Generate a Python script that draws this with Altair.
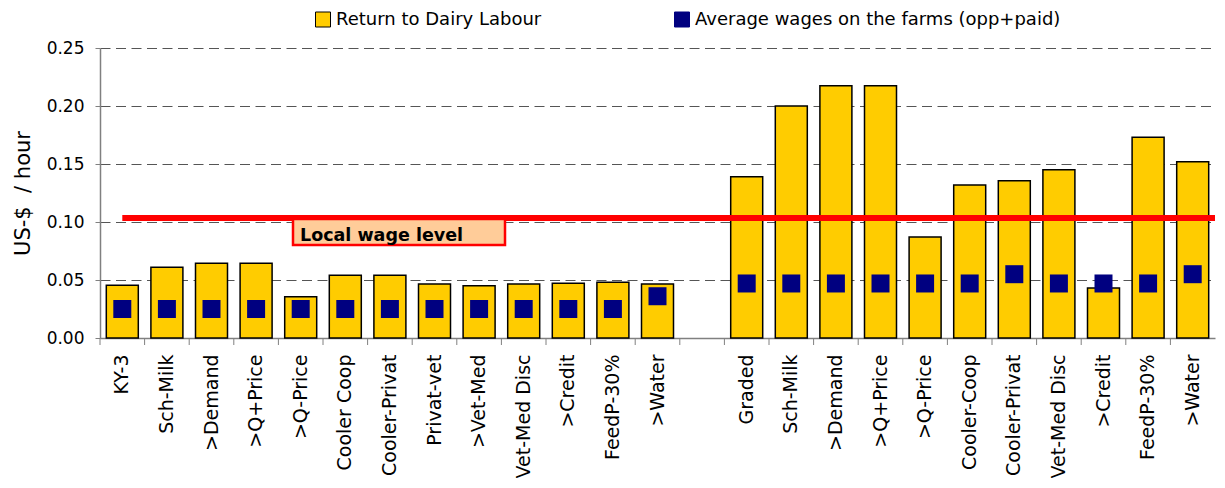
import altair as alt
import pandas as pd

# ---- data ----
g1_labels = ["KY-3", "Sch-Milk", ">Demand", ">Q+Price", ">Q-Price", "Cooler Coop",
             "Cooler-Privat", "Privat-vet", ">Vet-Med", "Vet-Med Disc", ">Credit",
             "FeedP-30%", ">Water"]
g1_return = [0.0455, 0.061, 0.0645, 0.0645, 0.0355, 0.054, 0.054, 0.0465, 0.045,
             0.0465, 0.0472, 0.048, 0.0465]
g1_wage = [0.025, 0.025, 0.025, 0.025, 0.025, 0.025, 0.025, 0.025, 0.025, 0.025,
           0.025, 0.025, 0.036]

g2_labels = ["Graded", "Sch-Milk", ">Demand", ">Q+Price", ">Q-Price", "Cooler-Coop",
             "Cooler-Privat", "Vet-Med Disc", ">Credit", "FeedP-30%", ">Water"]
g2_return = [0.139, 0.200, 0.2175, 0.2175, 0.087, 0.132, 0.1355, 0.145, 0.043,
             0.173, 0.152]
g2_wage = [0.047, 0.047, 0.047, 0.047, 0.047, 0.047, 0.055, 0.047, 0.047, 0.047,
           0.055]

local_wage = 0.1035
series_names = ["Return to Dairy Labour", "Average wages on the farms (opp+paid)"]
series_colors = ["#FFCC00", "#000080"]
series_strokes = ["black", "#000080"]

# ---- build table (second-group names get an invisible suffix to stay unique) ----
ZW = "\u200b"
GAP = ZW * 3
keys = g1_labels + [GAP] + [lab + ZW for lab in g2_labels]
label_keys = [k for k in keys if k != GAP]
returns = g1_return + [None] + g2_return
wages = g1_wage + [None] + g2_wage

df = pd.DataFrame([dict(key=k, ret=r, wage=w)
                   for k, r, w in zip(keys, returns, wages) if r is not None])
tick_df = pd.DataFrame({"key": keys})

FONT = "DejaVu Sans"
W, H = 1115, 290
STEP = W / len(keys)

x_scale = alt.Scale(domain=keys, paddingInner=0, paddingOuter=0)
x_enc = alt.X("key:N", sort=keys, scale=x_scale,
              axis=alt.Axis(title=None, values=label_keys, labelAngle=270,
                            labelAlign="right", labelBaseline="middle", labelFontSize=19,
                            labelFont=FONT, labelColor="black", labelPadding=16,
                            ticks=False, domainColor="#808080", domainWidth=1.5,
                            grid=False, labelLimit=300))

y_scale = alt.Scale(domain=[0, 0.25], nice=False)
y_axis = alt.Axis(title="US-$\u00a0\u00a0/ hour",
                  values=[0, 0.05, 0.1, 0.15, 0.2, 0.25],
                  format=".2f", labelFont=FONT, labelFontSize=17,
                  labelColor="black", labelPadding=11, tickSize=5,
                  tickColor="#808080", domainColor="#808080", domainWidth=1.5,
                  grid=True, gridDash=[10, 5.5], gridColor="#555555",
                  titleFont=FONT, titleFontSize=21, titleFontWeight="normal",
                  titleColor="black", titlePadding=13)

bars = alt.Chart(df).mark_bar(size=32, color=series_colors[0], stroke="black",
                               strokeWidth=1.5).encode(
    x=x_enc,
    y=alt.Y("ret:Q", scale=y_scale, axis=y_axis),
)

squares = alt.Chart(df).mark_square(size=324, opacity=1, color=series_colors[1]).encode(
    x=alt.X("key:N", sort=keys),
    y=alt.Y("wage:Q"),
)

# category separator ticks under the x axis
ticks = alt.Chart(tick_df).mark_rule(color="#808080", strokeWidth=1).encode(
    x=alt.X("key:N", sort=keys, bandPosition=0),
    y=alt.value(H),
    y2=alt.value(H + 7),
)

line_df = pd.DataFrame({"y": [local_wage]})
red_line = alt.Chart(line_df).mark_rule(color="#FF0000", strokeWidth=6).encode(
    x=alt.value(STEP / 2),
    x2=alt.value(W),
    y=alt.Y("y:Q"),
)

box = alt.Chart(line_df).mark_rect(fill="#FFCC99", stroke="#FF0000", strokeWidth=2.5).encode(
    x=alt.value(193), x2=alt.value(405), y=alt.value(171), y2=alt.value(197),
)
box_text = alt.Chart(pd.DataFrame({"t": ["Local wage level"]})).mark_text(
    font=FONT, fontSize=17.5, fontWeight="bold", color="black", align="left",
    baseline="alphabetic").encode(
    x=alt.value(200), y=alt.value(192.5), text="t:N")

# legend (top), built from the series names and colours
legend_layers = []
for name, col, stc, sx in zip(series_names, series_colors, series_strokes, [223, 582]):
    ldf = pd.DataFrame({"name": [name]})
    legend_layers.append(
        alt.Chart(ldf).mark_square(size=225, opacity=1, fill=col, stroke=stc,
                                   strokeWidth=1).encode(x=alt.value(sx), y=alt.value(-28.5)))
    legend_layers.append(
        alt.Chart(ldf).mark_text(font=FONT, fontSize=18, color="black", align="left",
                                 baseline="middle").encode(
            x=alt.value(sx + 13), y=alt.value(-28.5), text="name:N"))

chart = alt.layer(bars, squares, ticks, red_line, box, box_text, *legend_layers).properties(
    width=W, height=H,
    background="white",
    autosize=alt.AutoSizeParams(type="none"),
    padding={"left": 92, "top": 40, "right": 2, "bottom": 140},
).configure_view(strokeWidth=0)

chart.save("out.html", embed_options={"renderer": "svg", "actions": False})
